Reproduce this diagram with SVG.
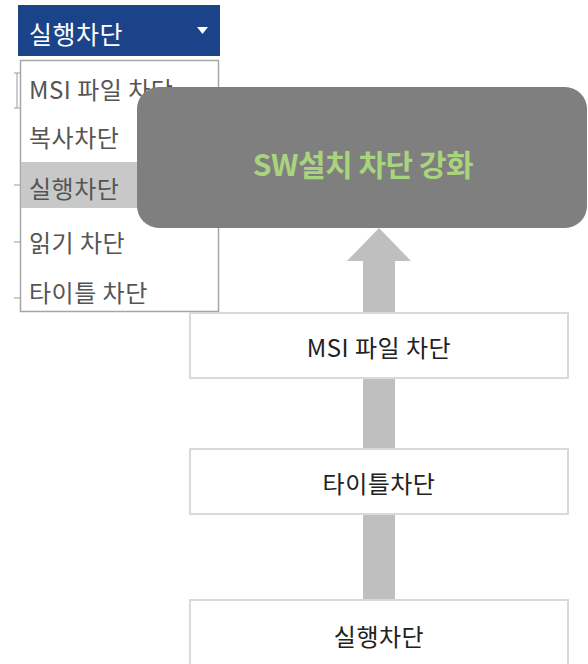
<svg xmlns="http://www.w3.org/2000/svg" width="588" height="664" viewBox="0 0 588 664">
<style>
text{font-family:"Noto Sans CJK KR","Malgun Gothic","Noto Sans",sans-serif;dominant-baseline:central}
.item{font-size:24px;fill:#555;letter-spacing:0.5px}
.box{fill:#fff;stroke:#d9d9d9;stroke-width:2}
.boxtxt{font-size:24px;fill:#222;text-anchor:middle;letter-spacing:0.5px}
.tick{stroke:#999;stroke-width:1}
</style>
<rect width="588" height="664" fill="#fff"/>
<g id="dropdown">
<line class="tick" x1="14" y1="73" x2="20" y2="73"/>
<line class="tick" x1="17" y1="73" x2="17" y2="108" stroke="#ddd"/>
<line class="tick" x1="14" y1="108" x2="20" y2="108"/>
<line class="tick" x1="14" y1="185" x2="20" y2="185"/>
<line class="tick" x1="14" y1="242" x2="20" y2="242"/>
<line class="tick" x1="14" y1="298" x2="20" y2="298"/>
<rect x="18" y="5" width="202" height="51" fill="#1b4389"/>
<text x="29" y="33" font-size="25" fill="#fff" letter-spacing="0.5">실행차단</text>
<path d="M197,27 L208,27 L202.5,34 Z" fill="#fff"/>
<rect x="20.5" y="60.5" width="198" height="251" fill="#fff" stroke="#a6a6a6" stroke-width="1.5"/>
<rect x="21" y="162" width="197" height="46" fill="#c8c8c8"/>
<text class="item" x="29" y="88">MSI 파일 차단</text>
<text class="item" x="29" y="136">복사차단</text>
<text class="item" x="29" y="187">실행차단</text>
<text class="item" x="29" y="241">읽기 차단</text>
<text class="item" x="29" y="291">타이틀 차단</text>
</g>
<g id="connectors">
<rect x="363" y="258" width="32" height="345" fill="#bfbfbf"/>
<path d="M379,228 L411,261 L347,261 Z" fill="#bfbfbf"/>
</g>
<g id="goal">
<rect x="137" y="87" width="450" height="141" rx="22" ry="22" fill="#7f7f7f"/>
<text x="363" y="163" font-size="30" font-weight="bold" fill="#a9d47e" text-anchor="middle" letter-spacing="-0.5">SW설치 차단 강화</text>
</g>
<g id="msi">
<rect class="box" x="190" y="313" width="378" height="65"/>
<text class="boxtxt" x="379" y="346">MSI 파일 차단</text>
</g>
<g id="title">
<rect class="box" x="190" y="449" width="378" height="65"/>
<text class="boxtxt" x="379" y="482">타이틀차단</text>
</g>
<g id="exec">
<rect class="box" x="190" y="600" width="378" height="75"/>
<text class="boxtxt" x="379" y="635">실행차단</text>
</g>
</svg>
